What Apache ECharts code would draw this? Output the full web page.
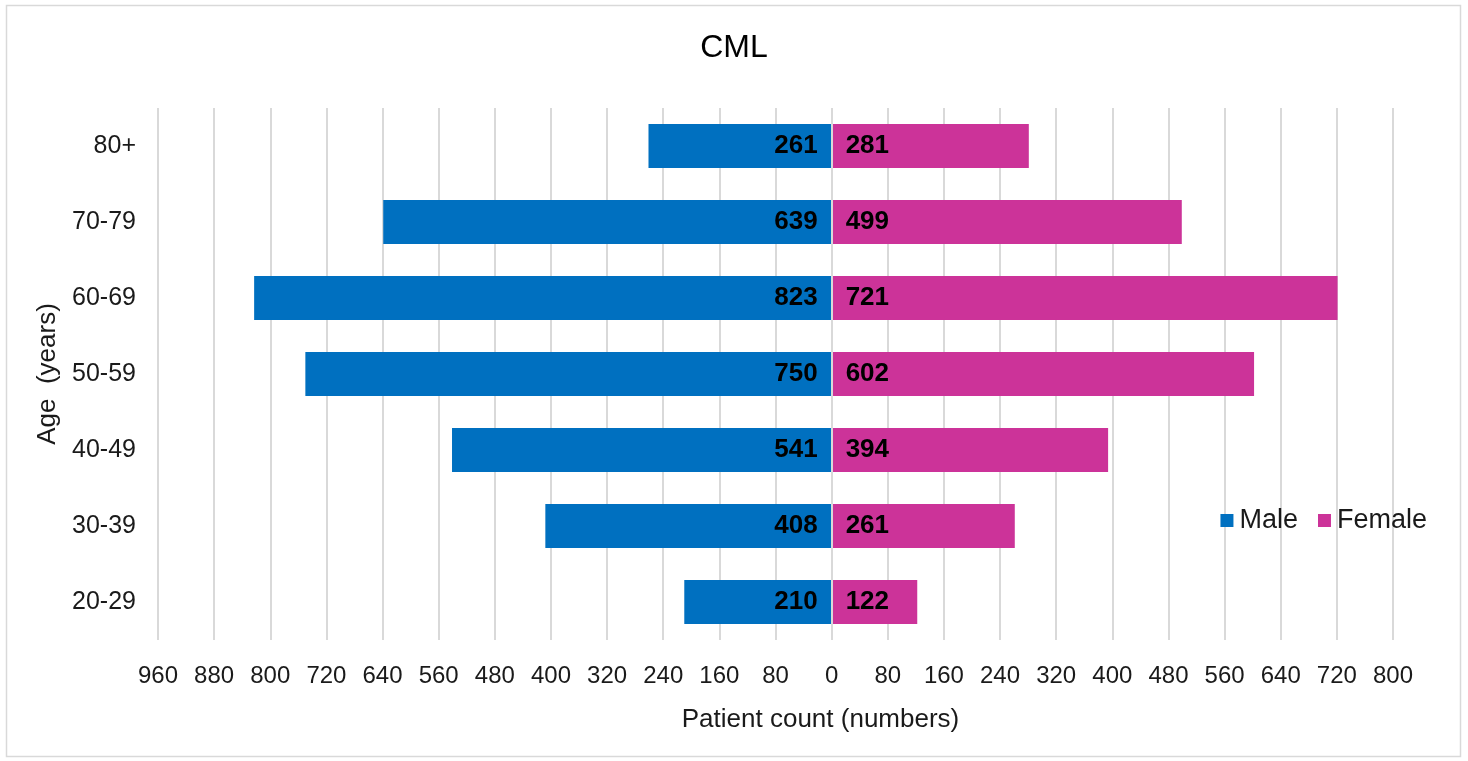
<!DOCTYPE html>
<html><head><meta charset="utf-8">
<script src="https://cdn.jsdelivr.net/npm/echarts@6/dist/echarts.min.js"></script>
<style>html,body{margin:0;padding:0;background:#fff}#c{width:1468px;height:761px}</style>
</head><body><div id="c"></div>
<script>
const categories = ['20-29','30-39','40-49','50-59','60-69','70-79','80+'];
const maleValues = [210,408,541,750,823,639,261];
const femaleValues = [122,261,394,602,721,499,281];
const xMin = -960, xMax = 800, xStep = 80;

const chart = echarts.init(document.getElementById('c'), null, {renderer:'canvas'});
const font = 'Liberation Sans, Arial, sans-serif';
chart.setOption({
  animation:false,
  graphic:[{type:'rect',shape:{x:6.5,y:5.5,width:1454,height:751},style:{fill:'none',stroke:'#d9d9d9',lineWidth:1.5},z:-1}],
  title:{text:'CML',left:'center',top:27,textStyle:{fontFamily:font,fontSize:32,fontWeight:'normal',color:'#000'}},
  legend:{right:36,top:502,itemWidth:13,itemHeight:13,itemGap:20,icon:'rect',
    textStyle:{fontFamily:font,fontSize:27,color:'#1a1a1a',padding:[0,0,0,1]},data:['Male','Female']},
  grid:{left:158,right:75,top:108,bottom:121,containLabel:false},
  xAxis:{type:'value',min:xMin,max:xMax,interval:xStep,
    name:'Patient count (numbers)',nameLocation:'middle',nameGap:67,
    nameTextStyle:{fontFamily:font,fontSize:26,color:'#1a1a1a',padding:[0,0,0,90]},
    axisLine:{show:false},axisTick:{show:false},
    axisLabel:{fontFamily:font,fontSize:24,color:'#1a1a1a',margin:24,formatter:v=>Math.abs(v)},
    splitLine:{show:true,lineStyle:{color:'#d9d9d9',width:2}}},
  yAxis:{type:'category',data:categories,
    name:'Age  (years)',nameLocation:'middle',nameGap:97,nameRotate:90,
    nameTextStyle:{fontFamily:font,fontSize:26,color:'#1a1a1a'},
    axisLine:{show:false},axisTick:{show:false},
    axisLabel:{fontFamily:font,fontSize:25,color:'#1a1a1a',margin:22}},
  series:[
    {name:'Male',type:'bar',stack:'t',barWidth:'58%',data:maleValues.map(v=>-v),
     itemStyle:{color:'#0070C0'},
     label:{show:true,position:'insideRight',distance:14,formatter:p=>Math.abs(p.value),
       fontFamily:font,fontSize:26,fontWeight:'bold',color:'#000'}},
    {name:'Female',type:'bar',stack:'t',barWidth:'58%',data:femaleValues,
     itemStyle:{color:'#CC3399'},
     label:{show:true,position:'insideLeft',distance:14,
       fontFamily:font,fontSize:26,fontWeight:'bold',color:'#000'},
     markLine:{silent:true,symbol:'none',label:{show:false},lineStyle:{color:'#d9d9d9',width:2,type:'solid'},data:[{xAxis:0}]}}
  ]
});
</script></body></html>
